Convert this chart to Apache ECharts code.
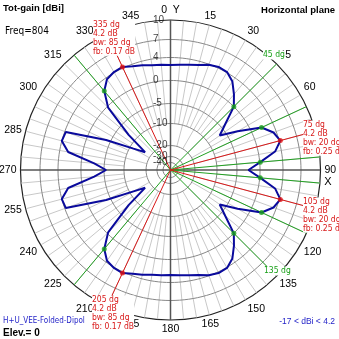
<!DOCTYPE html>
<html><head><meta charset="utf-8">
<script src="https://cdn.jsdelivr.net/npm/echarts/dist/echarts.min.js"></script>
<style>html,body{margin:0;padding:0;background:#fff}#c{width:339px;height:339px}</style>
</head><body><div id="c"></div>
<script>
// ---- data ----
const angles = [0,5,10,15,20,25,30,35,40,45,50,55,60,65,70,75,80,85,90,95,100,105,110,115,120,125,130,135,140,145,150,155,160,165,170,175,180,185,190,195,200,205,210,215,220,225,230,235,240,245,250,255,260,265,270,275,280,285,290,295,300,305,310,315,320,325,330,335,340,345,350,355,360];
const gains = [2.7,2.8,3.0,3.35,3.9,4.2,4.1,3.2,1.6,0.0,-3.9,-6.6,-2.6,1.9,3.5,4.2,2.9,0.1,-2.5,0.1,2.9,4.2,3.5,1.9,-2.6,-6.6,-3.9,0.0,1.6,3.2,4.1,4.2,3.9,3.35,3.0,2.8,2.7,2.8,2.95,3.3,3.65,4.2,4.1,3.7,2.35,-0.3,-7.95,-17,-11.7,-4.0,3.8,4.0,2.5,-2.8,-5.5,-2.8,2.5,4.0,3.8,-4.0,-11.7,-17,-7.95,-0.3,2.35,3.7,4.1,4.2,3.65,3.3,2.95,2.8,2.7];
const ringDb = [10,7,4,0,-5,-10,-20,-30,-40];
const ringLabels = ['10','7','4','0','-5','-10','-20','-30','-40'];
const maxAngles = [335,75,105,205];
const maxTexts = [
  ['335 dg','4.2 dB','bw: 85 dg','fb: 0.17 dB'],
  ['75 dg','4.2 dB','bw: 20 dg','fb: 0.25 dB'],
  ['105 dg','4.2 dB','bw: 20 dg','fb: 0.25 dB'],
  ['205 dg','4.2 dB','bw: 85 dg','fb: 0.17 dB']
];
const bwAngles = [320,45,65,85,95,115,135,220];
const bwTexts = ['45 dg','135 dg'];
const titleLeft = 'Tot-gain [dBi]';
const titleRight = 'Horizontal plane';
const freqText = 'Freq=804';
const antennaText = 'H+U_VEE-Folded-Dipol';
const elevText = 'Elev.= 0';
const rangeText = '-17 < dBi < 4.2';

// ---- radial (log-like) scale: dB -> fraction of radius ----
const SCALE_DB = [10,7,4,0,-5,-10,-20,-30,-40,-50];
const SCALE_R  = [1,0.87,0.75,0.597,0.443,0.31,0.163,0.09,0.05,0];
function rOf(db){
  if (db >= SCALE_DB[0]) return 1;
  for (let i=0;i<SCALE_DB.length-1;i++){
    const a=SCALE_DB[i], b=SCALE_DB[i+1];
    if (db<=a && db>=b){
      const t=(a-db)/(a-b);
      return SCALE_R[i]+(SCALE_R[i+1]-SCALE_R[i])*t;
    }
  }
  return 0;
}
const gainAt = a => gains[angles.indexOf(a)];

const NARROW = "'Liberation Sans Narrow','Arial Narrow','DejaVu Sans Condensed',sans-serif";
const SANS = "'Liberation Sans',Arial,sans-serif";

const series = [];
// spokes
for (let a=0;a<360;a+=5){
  if (a%90===0) continue;
  const inner = a%15===0 ? rOf(-20) : rOf(-10);
  series.push({type:'line',coordinateSystem:'polar',silent:true,symbol:'none',z:1,
    lineStyle:{color:'#c8c8c8',width:1},data:[[inner,a],[1,a]],animation:false});
}
// rings
ringDb.forEach(d=>{
  if (d===10) return;
  const pts=[];
  for (let a=0;a<=360;a+=2) pts.push([rOf(d),a]);
  series.push({type:'line',coordinateSystem:'polar',silent:true,symbol:'none',z:2,
    lineStyle:{color:'#888888',width:1},data:pts,animation:false});
});
// main axes
[[0,180],[90,270]].forEach(p=>{
  series.push({type:'line',coordinateSystem:'polar',silent:true,symbol:'none',z:3,
    lineStyle:{color:'#555555',width:1.5},data:[[1,p[0]],[1,p[1]]],animation:false});
});
// green bw lines
bwAngles.forEach(a=>{
  series.push({type:'line',coordinateSystem:'polar',silent:true,symbol:'none',z:4,
    lineStyle:{color:'#22a022',width:1},data:[[0,a],[1,a]],animation:false});
});
// red max lines
maxAngles.forEach(a=>{
  series.push({type:'line',coordinateSystem:'polar',silent:true,symbol:'none',z:4,
    lineStyle:{color:'#d81818',width:1},data:[[0,a],[1,a]],animation:false});
});
// pattern
series.push({type:'line',coordinateSystem:'polar',symbol:'none',z:6,
  lineStyle:{color:'#0a0a9c',width:2},data:angles.map((a,i)=>[rOf(gains[i]),a]),animation:false});
// markers
series.push({type:'scatter',coordinateSystem:'polar',symbolSize:5,z:7,
  itemStyle:{color:'#e01010'},data:maxAngles.map(a=>[rOf(gainAt(a)),a]),animation:false});
series.push({type:'scatter',coordinateSystem:'polar',symbolSize:5,z:7,
  itemStyle:{color:'#18a018'},data:bwAngles.map(a=>[rOf(gainAt(a)),a]),animation:false});
// ring labels
series.push({type:'scatter',coordinateSystem:'polar',symbolSize:0,z:8,silent:true,
  data:ringDb.map((d,i)=>({value:[rOf(d),0],name:ringLabels[i]})),
  label:{show:true,position:'inside',align:'left',offset:[-17.5,0],formatter:'{b}',
    color:'#111',fontSize:10,fontFamily:SANS},animation:false});

const graphic = [];
function txt(x,y,text,opts){
  graphic.push({type:'text',x:x,y:y,z:100,style:Object.assign({text:text},opts)});
}
txt(3,8,titleLeft,{font:'bold 9.5px '+SANS,fill:'#000',align:'left',verticalAlign:'middle'});
txt(335,10,titleRight,{font:'bold 9.5px '+SANS,fill:'#000',align:'right',verticalAlign:'middle'});
txt(5,31.5,freqText,{font:'10px '+NARROW,fill:'#000',align:'left',verticalAlign:'middle'});
txt(3,320.5,antennaText,{font:'8px '+NARROW,fill:'#2424c8',align:'left',verticalAlign:'middle'});
txt(3,333,elevText,{font:'bold 10px '+SANS,fill:'#000',align:'left',verticalAlign:'middle'});
txt(335,322,rangeText,{font:'8.5px '+SANS,fill:'#2424c8',align:'right',verticalAlign:'middle'});
txt(328,182,'X',{font:'11px '+SANS,fill:'#000',align:'center',verticalAlign:'middle'});
const maxPos = [[93,20.6],[303,120.6],[303,197.6],[92,295.6]];
maxTexts.forEach((lines,i)=>{
  txt(maxPos[i][0],maxPos[i][1],lines.join('\n'),{font:'8.5px '+NARROW,fill:'#d81818',align:'left',
    verticalAlign:'top',lineHeight:8.8,backgroundColor:'#fff'});
});
const bwPos = [[263,55],[264,271]];
bwTexts.forEach((t,i)=>{
  txt(bwPos[i][0],bwPos[i][1],t,{font:'8.5px '+NARROW,fill:'#18a018',align:'left',
    verticalAlign:'middle',backgroundColor:'#fff'});
});

const chart = echarts.init(document.getElementById('c'),null,{renderer:'canvas'});
chart.setOption({
  animation:false,
  backgroundColor:'#fff',
  polar:{center:[170.5,170],radius:150},
  angleAxis:{type:'value',min:0,max:360,interval:15,startAngle:90,clockwise:true,
    axisLine:{show:true,lineStyle:{color:'#222',width:1.2}},
    axisTick:{show:false},splitLine:{show:false},
    axisLabel:{margin:4,color:'#000',fontSize:10.5,fontFamily:SANS,
      formatter:v=> v===0 ? '0  Y' : (v>=360 ? '' : String(v))}},
  radiusAxis:{type:'value',min:0,max:1,axisLine:{show:false},axisTick:{show:false},
    axisLabel:{show:false},splitLine:{show:false}},
  series:series,
  graphic:graphic
});
</script></body></html>
